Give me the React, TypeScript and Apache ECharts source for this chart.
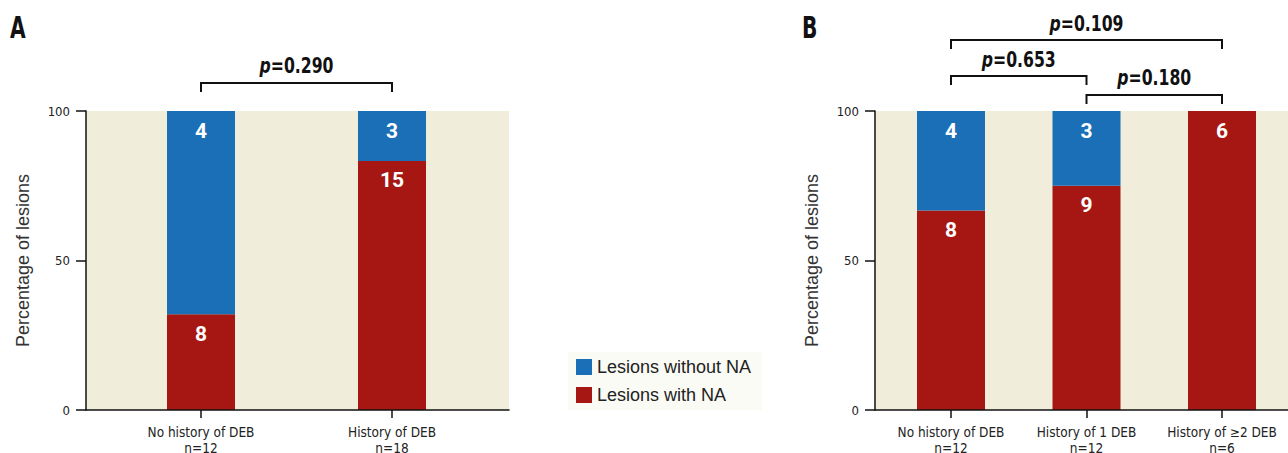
import React, { useEffect, useRef } from "react";
import * as echarts from "echarts";

// Panel A data
const catsA = ["No history of DEB\nn=12", "History of DEB\nn=18"];
const pctWithA = [32, 83.3];
const pctWithoutA = [68, 16.7];
const cntWithA = [8, 15];
const cntWithoutA = [4, 3];

// Panel B data
const catsB = ["No history of DEB\nn=12", "History of 1 DEB\nn=12", "History of \u22652 DEB\nn=6"];
const pctWithB = [66.7, 75, 100];
const pctWithoutB = [33.3, 25, 0];
const cntWithB = [8, 9, 6];
const cntWithoutB = [4, 3, 0];

const yTicks = [0, 50, 100];

const pA = [{ a: 0, b: 1, text: "=0.290", y: 66, by: 83 }];
const pB = [
  { a: 0, b: 2, text: "=0.109", y: 24, by: 40 },
  { a: 0, b: 1, text: "=0.653", y: 60, by: 76 },
  { a: 1, b: 2, text: "=0.180", y: 78, by: 95 },
];

const RED = "#a61714";
const BLUE = "#1b6fb6";
const BG = "#f1eddb";
const COND = "'DejaVu Sans Condensed', 'DejaVu Sans', sans-serif";
const SANS = "'Liberation Sans', Arial, sans-serif";
const BOLDNUM = "Roboto, 'Liberation Sans', sans-serif";

export default function App() {
  const ref = useRef<HTMLDivElement>(null);
  useEffect(() => {
    document.body.style.margin = "0";
    const chart = echarts.init(ref.current!, null, { renderer: "svg" });

    const axisLineStyle = { color: "#111", width: 1.5 };

    // background grid axes (frame, y ticks, y name)
    const bgX = (gi: number) => ({
      type: "value",
      gridIndex: gi,
      min: 0,
      max: 1,
      z: 5,
      splitLine: { show: false },
      axisLine: { show: true, lineStyle: axisLineStyle },
      axisTick: { show: false },
      axisLabel: { show: false },
    });
    const bgY = (gi: number) => ({
      type: "value",
      gridIndex: gi,
      min: yTicks[0],
      max: yTicks[yTicks.length - 1],
      interval: 50,
      z: 5,
      name: "Percentage of lesions",
      nameLocation: "middle",
      nameGap: 54,
      nameTextStyle: { fontFamily: SANS, fontSize: 18, color: "#333" },
      splitLine: { show: false },
      axisLine: { show: true, lineStyle: axisLineStyle },
      axisTick: { show: true, length: 10, lineStyle: axisLineStyle },
      axisLabel: { fontFamily: COND, fontSize: 13, color: "#222", margin: 16 },
    });
    // data grid axes
    const dataX = (gi: number, cats: string[]) => ({
      type: "category",
      gridIndex: gi,
      data: cats,
      boundaryGap: true,
      axisLine: { show: false },
      axisTick: { show: true, alignWithLabel: true, length: 8, lineStyle: axisLineStyle },
      axisLabel: {
        fontFamily: COND,
        fontSize: 13.5,
        color: "#222",
        lineHeight: 16,
        margin: 14,
        interval: 0,
      },
    });
    const dataY = (gi: number) => ({
      type: "value",
      gridIndex: gi,
      min: 0,
      max: 100,
      show: false,
    });

    const lbl = (counts: number[]) => ({
      show: true,
      position: "insideTop",
      distance: 9,
      color: "#fff",
      fontFamily: BOLDNUM,
      fontWeight: "bold",
      fontSize: 21,
      formatter: (p: any) => (counts[p.dataIndex] ? String(counts[p.dataIndex]) : ""),
    });
    const bar = (name: string, gi: number, stack: string, vals: number[], counts: number[], color: string) => ({
      type: "bar",
      name,
      xAxisIndex: gi,
      yAxisIndex: gi,
      stack,
      barWidth: 68,
      itemStyle: { color },
      label: lbl(counts),
      data: vals,
    });

    const g = (left: number, width: number, bg: boolean) => ({
      left,
      top: 111,
      width,
      height: 299,
      containLabel: false,
      outerBoundsMode: "none",
      show: bg,
      backgroundColor: bg ? BG : "transparent",
      borderWidth: 0,
    });

    chart.setOption({
      animation: false,
      grid: [g(86, 423, true), g(105.5, 382, false), g(875, 425, true), g(883.25, 406.5, false)],
      xAxis: [bgX(0), dataX(1, catsA), bgX(2), dataX(3, catsB)],
      yAxis: [bgY(0), dataY(1), bgY(2), dataY(3)],
      legend: {
        data: ["Lesions without NA", "Lesions with NA"],
        orient: "vertical",
        left: 568,
        top: 352,
        backgroundColor: "#fbfbf5",
        padding: [6, 11, 6, 8],
        itemWidth: 16,
        itemHeight: 16,
        itemGap: 10,
        icon: "rect",
        textStyle: { fontFamily: SANS, fontSize: 18, color: "#222" },
      },
      series: [
        bar("Lesions with NA", 1, "a", pctWithA, cntWithA, RED),
        bar("Lesions without NA", 1, "a", pctWithoutA, cntWithoutA, BLUE),
        bar("Lesions with NA", 3, "b", pctWithB, cntWithB, RED),
        bar("Lesions without NA", 3, "b", pctWithoutB, cntWithoutB, BLUE),
      ],
    });

    const graphics: any[] = [
      { type: "text", x: 10, y: 12, scaleX: 0.75, style: { text: "A", font: `bold 30px ${COND}`, fill: "#111" } },
      { type: "text", x: 802, y: 12, scaleX: 0.75, style: { text: "B", font: `bold 30px ${COND}`, fill: "#111" } },
    ];
    const addBracket = (xi: number, p: any) => {
      const xa = chart.convertToPixel({ xAxisIndex: xi } as any, p.a) as unknown as number;
      const xb = chart.convertToPixel({ xAxisIndex: xi } as any, p.b) as unknown as number;
      graphics.push({
        type: "polyline",
        shape: { points: [[xa, p.by + 9], [xa, p.by], [xb, p.by], [xb, p.by + 9]] },
        style: { stroke: "#111", lineWidth: 2, fill: null },
      });
      graphics.push({
        type: "text",
        x: (xa + xb) / 2,
        y: p.y,
        scaleX: 0.83,
        style: {
          text: "{i|p}{b|" + p.text + "}",
          align: "center",
          verticalAlign: "middle",
          rich: {
            i: { fontFamily: COND, fontWeight: "bold", fontStyle: "italic", fontSize: 21, fill: "#111" },
            b: { fontFamily: COND, fontWeight: "bold", fontSize: 21, fill: "#111" },
          },
        },
      });
    };
    pA.forEach((p) => addBracket(1, p));
    pB.forEach((p) => addBracket(3, p));
    chart.setOption({ graphic: graphics });

    return () => chart.dispose();
  }, []);
  return <div ref={ref} style={{ width: 1288, height: 453 }} />;
}
